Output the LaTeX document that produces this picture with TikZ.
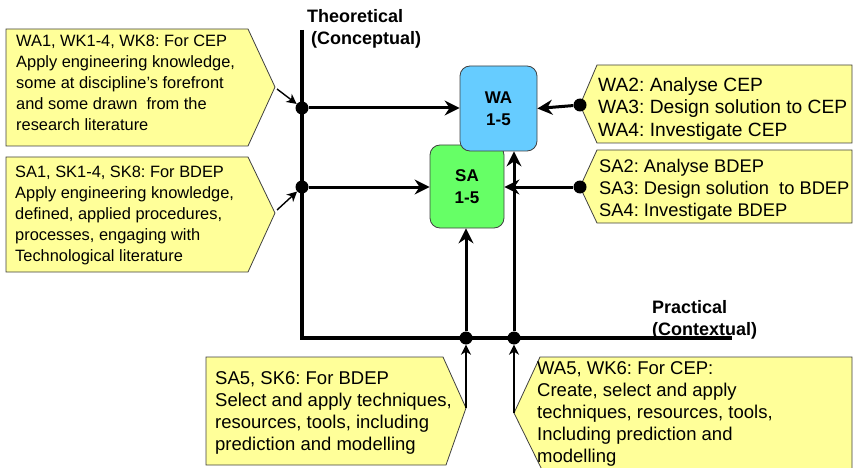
\documentclass[tikz,border=0pt]{standalone}
\usepackage{fontspec}
\setmainfont{Liberation Sans}
\usetikzlibrary{arrows.meta,calc}
\frenchspacing

\definecolor{calloutyellow}{HTML}{FFFF99}
\definecolor{waBlue}{HTML}{66CCFF}
\definecolor{saGreen}{HTML}{66FF66}
\definecolor{edgegray}{HTML}{404040}

\tikzset{
  callout/.style={draw=edgegray, line width=0.8pt, fill=calloutyellow, line join=miter},
  calltext/.style={anchor=north west, inner sep=0pt, align=left},
  axisline/.style={line width=4pt, line join=miter},
  flow/.style={line width=3pt, -{Stealth[length=15pt,width=15pt,inset=5pt]}},
  feed/.style={line width=1.4pt, -{Stealth[length=10pt,width=10pt,inset=3pt]}},
  junction/.style={circle, fill=black, inner sep=0pt, minimum size=13pt},
  outcome/.style={draw=edgegray, line width=0.8pt, rounded corners=10pt,
    align=center, font=\fontsize{17}{22}\selectfont\bfseries, inner sep=0pt},
  axislabel/.style={anchor=base west, inner sep=0pt, font=\fontsize{18}{22}\selectfont\bfseries}
}

\begin{document}
\begin{tikzpicture}[x=1pt,y=-1pt]
\useasboundingbox (0,0) rectangle (854,468);

% axes
\draw[axisline] (302,30) -- (302,338) -- (732,338);
\node[axislabel] (theo) at (307,23) {Theoretical};
\node[axislabel] (conc) at (311,45) {(Conceptual)};
\node[axislabel] (prac) at (652,313) {Practical};
\node[axislabel] (cont) at (652,335) {(Contextual)};

% outcome boxes (WA drawn over SA)
\node[outcome, fill=saGreen, minimum width=74pt, minimum height=83pt] (SA) at (467,186.5) {SA\\1-5};
\node[outcome, fill=waBlue, minimum width=77pt, minimum height=85pt] (WA) at (498.5,108.5) {WA\\1-5};

% callouts
\draw[callout] (6,29) -- (248,29) -- (275,87) -- (248,146) -- (6,146) -- cycle;
\coordinate (t1) at (277,89);
\node[calltext, font=\fontsize{16.4}{21}\selectfont] (c1) at (16,35)
  {WA1, WK1-4, WK8: For CEP\\Apply engineering knowledge,\\some at discipline’s forefront\\and some drawn\ \ from the\\research literature};

\draw[callout] (6,157) -- (248,157) -- (275,213) -- (248,272) -- (6,272) -- cycle;
\coordinate (t2) at (277,210);
\node[calltext, font=\fontsize{16.4}{21}\selectfont] (c2) at (15,166)
  {SA1, SK1-4, SK8: For BDEP\\Apply engineering knowledge,\\defined, applied procedures,\\processes, engaging with\\Technological literature};

\draw[callout] (580,105) -- (597,65) -- (852,65) -- (852,143) -- (597,143) -- cycle;
\node[calltext, font=\fontsize{19.2}{22.5}\selectfont] (c3) at (598,77)
  {WA2: Analyse CEP\\WA3: Design solution to CEP\\WA4: Investigate CEP};

\draw[callout] (580,187) -- (597,150) -- (852,150) -- (852,223) -- (597,223) -- cycle;
\node[calltext, font=\fontsize{18.3}{22}\selectfont] (c4) at (599,159)
  {SA2: Analyse BDEP\\SA3: Design solution\ \ to BDEP\\SA4: Investigate BDEP};

\draw[callout] (206,357) -- (443,357) -- (466,408) -- (446,465) -- (206,465) -- cycle;
\coordinate (t5) at (466,408);
\node[calltext, font=\fontsize{18.5}{22}\selectfont] (c5) at (215,371)
  {SA5, SK6: For BDEP\\Select and apply techniques,\\resources, tools, including\\prediction and modelling};

\draw[callout] (514,413) -- (540,357) -- (852,357) -- (852,480) -- (547,480) -- cycle;
\coordinate (t6) at (514,413);
\node[calltext, font=\fontsize{18.5}{22.2}\selectfont] (c6) at (537,361)
  {WA5, WK6: For CEP:\\Create, select and apply\\techniques, resources, tools,\\Including prediction and\\modelling};

% junctions
\node[junction] (d1) at (302,108) {};
\node[junction] (d2) at (302,187) {};
\node[junction] (d3) at (580,105) {};
\node[junction] (d4) at (580,187) {};
\node[junction] (d5) at (466,338) {};
\node[junction] (d6) at (514,338) {};

% feeds from callouts to junctions
\draw[feed] (t1) -- (d1);
\draw[feed] (t2) -- (d2);
\draw[feed] (t5) -- (d5);
\draw[feed] (t6) -- (d6);

% flows into the outcome boxes
\draw[flow] (d1) -- (d1 -| WA.west);
\draw[flow] (d2) -- (d2 -| SA.west);
\draw[flow] (d3) -- (WA.east);
\draw[flow] (d4) -- (d4 -| SA.east);
\draw[flow] (d5) -- (d5 |- SA.south);
\draw[flow] (d6) -- (d6 |- WA.south);
\end{tikzpicture}
\end{document}
